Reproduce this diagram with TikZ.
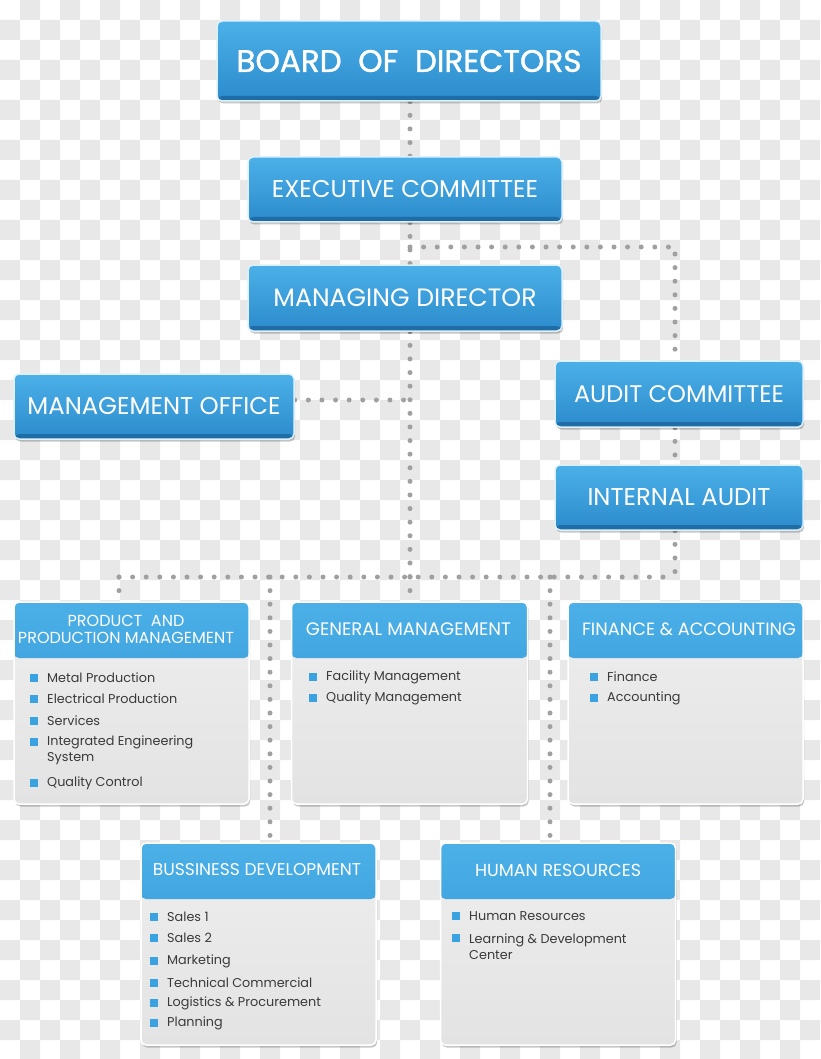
\documentclass[tikz,border=0pt]{standalone}
\usepackage{fontspec}
\setmainfont{Poppins}
\newfontfamily\boldish[FakeBold=1.3]{Poppins}
\usepackage{graphicx}
\usetikzlibrary{shadows,calc,backgrounds}
\definecolor{btop}{HTML}{4BB0E8}
\definecolor{bbot}{HTML}{2C8BCC}
\definecolor{bstripe}{HTML}{1E6DA6}
\definecolor{bedge}{HTML}{DDF0FB}
\definecolor{pgray}{HTML}{E3E3E3}
\definecolor{dotc}{HTML}{A0A0A0}
\definecolor{bul}{HTML}{3AA2E0}
\definecolor{txt}{HTML}{3A3A3A}
\newcommand\fitw[2]{\resizebox{#1}{!}{#2}}
\newcommand\bitem[4]{%
  \fill[bul] (#2-17,#3-4) rectangle ++(8,8);
  \node[itemtxt] (#1) at (#2,#3) {#4};}
\tikzset{
  boxshadow/.style={drop shadow={shadow xshift=1.2pt, shadow yshift=-2.5pt, fill=black, opacity=.22}},
  titlebox/.style={rectangle, rounded corners=5pt, draw=bedge, line width=1.5pt,
    top color=btop, bottom color=bbot, boxshadow, text=white, inner sep=0pt,
    path picture={\fill[bstripe] ([yshift=5pt]path picture bounding box.south west) rectangle (path picture bounding box.south east);}},
  panel/.style={rectangle, rounded corners=5pt, draw=white, line width=1.5pt,
    top color=pgray!60!white, bottom color=pgray, boxshadow, inner sep=0pt,
    path picture={\shade[top color=btop, bottom color=bbot] (path picture bounding box.north west) rectangle ([yshift=-56pt]path picture bounding box.north east);}},
  dots/.style={draw=dotc, line width=5pt, line cap=round, dash pattern=on 0pt off 13.6pt},
  headtxt/.style={text=white, inner sep=0pt, align=center},
  itemtxt/.style={text=txt, font=\fontsize{12.8}{16.5}\selectfont, anchor=west, inner sep=0pt, align=left},
}
\begin{document}
\begin{tikzpicture}[x=1pt,y=-1pt]
\useasboundingbox (0,0) rectangle (820,1059);

% boxes
\node[titlebox, minimum width=384pt, minimum height=80pt] (board) at (409,61) {\fitw{345pt}{\boldish BOARD\ \ OF\ \ DIRECTORS}};
\node[titlebox, minimum width=314pt, minimum height=65pt] (exec) at (405,189.5) {\fitw{266pt}{EXECUTIVE COMMITTEE}};
\node[titlebox, minimum width=314pt, minimum height=66pt] (md) at (405,298) {\fitw{263pt}{MANAGING DIRECTOR}};
\node[titlebox, minimum width=280pt, minimum height=65pt] (mo) at (154,406.5) {\fitw{253pt}{MANAGEMENT OFFICE}};
\node[titlebox, minimum width=248pt, minimum height=66pt] (audit) at (679,394) {\fitw{210pt}{AUDIT COMMITTEE}};
\node[titlebox, minimum width=248pt, minimum height=65pt] (ia) at (679,497.5) {\fitw{183pt}{INTERNAL AUDIT}};
\node[panel, minimum width=235pt, minimum height=202pt] (pp) at (131.5,703) {};
\node[panel, minimum width=236pt, minimum height=202pt] (gm) at (409.5,703) {};
\node[panel, minimum width=235pt, minimum height=202pt] (fa) at (685.5,703) {};
\node[panel, minimum width=235pt, minimum height=202pt] (bd) at (258.5,944) {};
\node[panel, minimum width=235pt, minimum height=202pt] (hr) at (558,944) {};

% junction coordinates
\coordinate (j1) at (410,247);
\coordinate (j1r) at (675,247);
\coordinate (moj) at (410,400);
\coordinate (busL) at (119,577);
\coordinate (busB) at (270,577);
\coordinate (busC) at (410,577);
\coordinate (busH) at (550,577);
\coordinate (busR) at (675,577);

\begin{scope}[on background layer]
\fill[white] (0,0) rectangle (820,1059);
\fill[black!9]
  \foreach \cx in {0,40,...,800}{\foreach \cy in {20,60,...,1060}{(\cx,\cy) rectangle ++(20,20)}}
  \foreach \cx in {20,60,...,780}{\foreach \cy in {0,40,...,1040}{(\cx,\cy) rectangle ++(20,20)}};
\draw[dots] (board.south -| busC) -- (exec.north -| busC);
\draw[dots] (exec.south -| busC) -- (md.north -| busC);
\draw[dots] (j1) -- (j1r) -- (audit.north -| j1r);
\draw[dots] (audit.south -| busR) -- (ia.north -| busR);
\draw[dots] (ia.south -| busR) -- (busR);
\draw[dots] (md.south -| busC) -- (busC);
\draw[dots] (mo.east |- moj) -- (moj);
\draw[dots] (busL) -- (busR);
\draw[dots] (busL) -- (pp.north -| busL);
\draw[dots] (busC) -- (gm.north -| busC);
\draw[dots] (busB) -- (bd.north -| busB);
\draw[dots] (busH) -- (hr.north -| busH);
\end{scope}

% panel headers
\node[headtxt] (pph) at (126,631) {\resizebox{216pt}{!}{\begin{tabular}{@{}c@{}}PRODUCT\ \ AND\\[-1pt]PRODUCTION MANAGEMENT\end{tabular}}};
\node[headtxt] (gmh) at (408.5,629) {\fitw{205pt}{GENERAL MANAGEMENT}};
\node[headtxt] (fah) at (689,629) {\fitw{214pt}{FINANCE \& ACCOUNTING}};
\node[headtxt] (bdh) at (257,870) {\fitw{208pt}{BUSSINESS DEVELOPMENT}};
\node[headtxt] (hrh) at (558,870) {\fitw{166pt}{HUMAN RESOURCES}};

% items
\bitem{pp1}{47}{678}{Metal Production}
\bitem{pp2}{47}{699}{Electrical Production}
\bitem{pp3}{47}{721}{Services}
\fill[bul] (30,738) rectangle ++(8,8);
\node[itemtxt] (pp4) at (47,750.5) {Integrated Engineering\\System};
\bitem{pp5}{47}{783}{Quality Control}

\bitem{gm1}{326}{677}{Facility Management}
\bitem{gm2}{326}{698}{Quality Management}

\bitem{fa1}{607}{677}{Finance}
\bitem{fa2}{607}{698}{Accounting}

\bitem{bd1}{167}{917}{Sales 1}
\bitem{bd2}{167}{938}{Sales 2}
\bitem{bd3}{167}{961}{Marketing}
\bitem{bd4}{167}{983}{Technical Commercial}
\bitem{bd5}{167}{1003}{Logistics \& Procurement}
\bitem{bd6}{167}{1023}{Planning}

\bitem{hr1}{469}{916}{Human Resources}
\fill[bul] (452,934) rectangle ++(8,8);
\node[itemtxt] (hr2) at (469,946.5) {Learning \& Development\\Center};
\end{tikzpicture}
\end{document}
